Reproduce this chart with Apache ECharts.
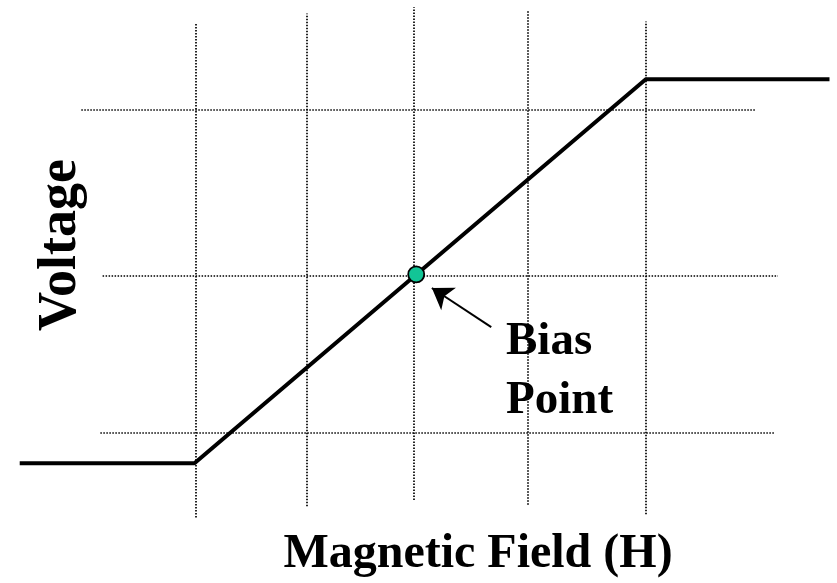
<!DOCTYPE html>
<html>
<head>
<meta charset="utf-8">
<script src="https://cdn.jsdelivr.net/npm/echarts@6/dist/echarts.min.js"></script>
<style>
  html, body { margin: 0; padding: 0; background: #fff; }
  #chart { width: 837px; height: 583px; }
</style>
</head>
<body>
<div id="chart"></div>
<script>
// Sensor transfer curve: output voltage vs. applied magnetic field (arbitrary units)
const curveH = [-3.52, -1.96, 2.07, 3.71];
const curveV = [-1.17, -1.17, 1.23, 1.23];

// Operating (bias) point on the linear region
const biasPoint = [0.02, 0.01];

// Vertical reference lines: field positions and their vertical extent
const fieldLines = [-1.95, -0.96, 0, 1.02, 2.07];
const fieldLineTop = [1.58, 1.64, 1.68, 1.66, 1.59];
const fieldLineBottom = [-1.51, -1.44, -1.40, -1.43, -1.49];

// Horizontal reference lines: voltage levels and their horizontal extent
const voltLevels = [1.04, 0, -0.98];
const voltLevelLeft = [-2.97, -2.78, -2.80];
const voltLevelRight = [3.05, 3.25, 3.22];

// Annotation arrow pointing at the bias point
const arrowFrom = [0.69, -0.32];
const arrowTo = [0.16, -0.075];

const xLabel = 'Magnetic Field (H)';
const yLabel = 'Voltage';
const biasLabel = ['Bias', 'Point'];

const serif = '"Liberation Serif", "Times New Roman", serif';

const refLines = [];
fieldLines.forEach((h, i) => {
  refLines.push([{ coord: [h, fieldLineBottom[i]] }, { coord: [h, fieldLineTop[i]] }]);
});
voltLevels.forEach((v, i) => {
  refLines.push([{ coord: [voltLevelLeft[i], v] }, { coord: [voltLevelRight[i], v] }]);
});

const chart = echarts.init(document.getElementById('chart'), null, { renderer: 'canvas' });

chart.setOption({
  animation: false,
  backgroundColor: '#ffffff',
  grid: { left: 0, right: 0, top: 0, bottom: 0, containLabel: false },
  xAxis: { type: 'value', min: -3.696, max: 3.777, show: false, splitLine: { show: false } },
  yAxis: { type: 'value', min: -1.919, max: 1.725, show: false, splitLine: { show: false } },
  series: [
    {
      name: 'reference',
      type: 'line',
      data: [],
      silent: true,
      markLine: {
        silent: true,
        symbol: ['none', 'none'],
        label: { show: false },
        lineStyle: { color: '#000', width: 1.7, type: [1.5, 1.5], opacity: 1 },
        emphasis: { disabled: true },
        data: refLines
      },
      z: 1
    },
    {
      name: 'transfer',
      type: 'line',
      data: curveH.map((h, i) => [h, curveV[i]]),
      showSymbol: false,
      symbol: 'none',
      lineStyle: { color: '#000', width: 4 },
      silent: true,
      z: 3
    },
    {
      name: 'bias',
      type: 'scatter',
      data: [biasPoint],
      symbol: 'circle',
      symbolSize: 16,
      itemStyle: { color: '#12c596', borderColor: '#000', borderWidth: 1.8, opacity: 1 },
      silent: true,
      z: 5
    },
    {
      name: 'pointer',
      type: 'line',
      data: [],
      silent: true,
      markLine: {
        silent: true,
        symbol: ['none', 'arrow'],
        symbolSize: 20,
        label: { show: false },
        lineStyle: { color: '#000', width: 2, type: 'solid', opacity: 1 },
        itemStyle: { color: '#000' },
        emphasis: { disabled: true },
        data: [[{ coord: arrowFrom }, { coord: arrowTo }]]
      },
      z: 4
    }
  ],
  graphic: [
    {
      type: 'text',
      x: 478, y: 555,
      style: {
        text: xLabel,
        align: 'center', verticalAlign: 'middle',
        font: 'bold 48px ' + serif, fill: '#000'
      }
    },
    {
      type: 'text',
      rotation: Math.PI / 2,
      x: 61, y: 245,
      style: {
        text: yLabel,
        align: 'center', verticalAlign: 'middle',
        font: 'bold 54px ' + serif, fill: '#000'
      }
    },
    {
      type: 'text',
      x: 506, y: 342,
      style: {
        text: biasLabel[0],
        align: 'left', verticalAlign: 'middle',
        font: 'bold 47px ' + serif, fill: '#000'
      }
    },
    {
      type: 'text',
      x: 506, y: 401,
      style: {
        text: biasLabel[1],
        align: 'left', verticalAlign: 'middle',
        font: 'bold 47px ' + serif, fill: '#000'
      }
    }
  ]
});
</script>
</body>
</html>
